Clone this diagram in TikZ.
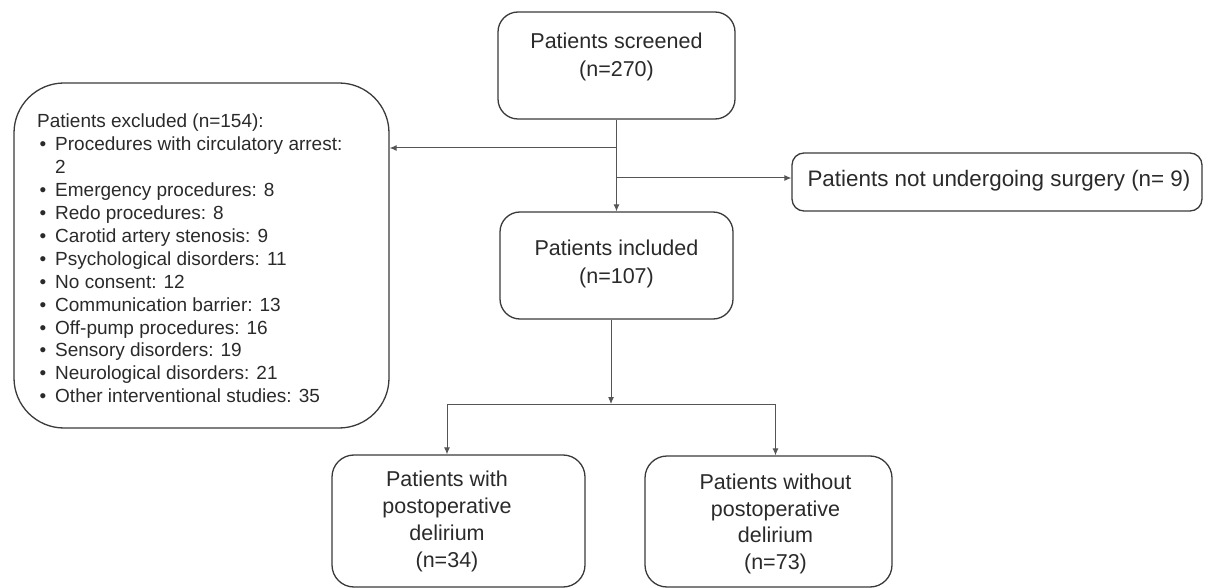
\documentclass[tikz,border=0pt]{standalone}
\usepackage{fontspec}
\setmainfont{Liberation Sans}
\usetikzlibrary{arrows.meta}
\definecolor{ln}{HTML}{555555}
\definecolor{bd}{HTML}{3A3A3A}
\definecolor{tx}{HTML}{2A2A2A}
\newcommand{\bulitem}{\makebox[18pt][l]{\hspace{2.5pt}\textbullet}}
\begin{document}
\begin{tikzpicture}[x=1pt,y=-1pt,
  box/.style={draw=bd, line width=1.3pt, inner sep=0},
  lbl/.style={text=tx, font=\fontsize{21.5}{28}\selectfont, align=center, inner sep=0},
  lbl4/.style={lbl, font=\fontsize{21.5}{26.8}\selectfont},
  conn/.style={draw=ln, line width=1pt},
  arr/.style={conn, -{Latex[length=7pt,width=6pt]}}]
\useasboundingbox (0,0) rectangle (1208,588);
% boxes
\node[box, rounded corners=20pt, minimum width=237pt, minimum height=107pt] (scr) at (616.5,65.5) {};
\node[lbl] (scrt) at (616.5,57) {Patients screened\\(n=270)};
\node[box, rounded corners=20pt, minimum width=233pt, minimum height=107pt] (inc) at (616.5,265.5) {};
\node[lbl] (inct) at (616.5,263.5) {Patients included\\(n=107)};
\node[box, rounded corners=50pt, minimum width=375pt, minimum height=345pt] (exc) at (201.5,255.5) {};
\node[text=tx, font=\fontsize{19}{22.9}\selectfont, align=left, anchor=north west, inner sep=0] (exct) at (37,114) {Patients excluded (n=154):\\
\bulitem Procedures with circulatory arrest:\\
\hspace*{18pt}2\\
\bulitem Emergency procedures: 8\\
\bulitem Redo procedures: 8\\
\bulitem Carotid artery stenosis: 9\\
\bulitem Psychological disorders: 11\\
\bulitem No consent: 12\\
\bulitem Communication barrier: 13\\
\bulitem Off-pump procedures: 16\\
\bulitem Sensory disorders: 19\\
\bulitem Neurological disorders: 21\\
\bulitem Other interventional studies: 35};
\node[box, rounded corners=12pt, minimum width=410pt, minimum height=58pt] (ns) at (997,182) {};
\node[lbl, font=\fontsize{22.4}{28}\selectfont] (nst) at (999,181) {Patients not undergoing surgery (n= 9)};
\node[box, rounded corners=22pt, minimum width=253pt, minimum height=132pt] (pw) at (458.5,521) {};
\node[lbl4] (pwt) at (447,521.5) {Patients with\\postoperative\\delirium\\(n=34)};
\node[box, rounded corners=22pt, minimum width=247pt, minimum height=131pt] (po) at (768.5,521.5) {};
\node[lbl4] (pot) at (775.5,524) {Patients without\\postoperative\\delirium\\(n=73)};
% connectors
\draw[arr] (scr.south) -- (inc.north);
\coordinate (j1) at (616.5,148);
\draw[arr] (j1) -- (exc.east |- j1);
\coordinate (j2) at (616.5,178);
\draw[arr] (j2) -- (ns.west |- j2);
\coordinate (j3) at (611,404);
\draw[arr] (inc.south -| j3) -- (j3);
\coordinate (bl) at (447,404);
\coordinate (br) at (775.5,404);
\draw[conn] (bl) -- (br);
\draw[arr] (bl) -- (pw.north -| bl);
\draw[arr] (br) -- (po.north -| br);
\end{tikzpicture}
\end{document}
